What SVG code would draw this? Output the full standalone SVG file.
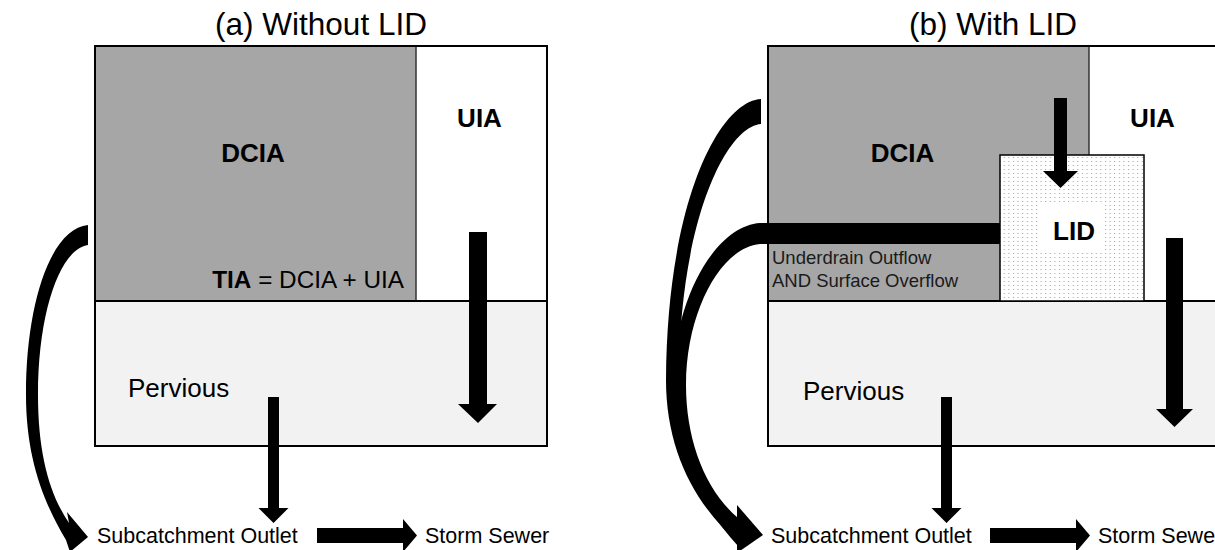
<svg xmlns="http://www.w3.org/2000/svg" width="1215" height="550" viewBox="0 0 1215 550">
  <defs>
    <pattern id="dots" x="0" y="0" width="4.6" height="4" patternUnits="userSpaceOnUse">
      <rect x="1" y="1" width="1" height="1" fill="#9a9a9a"/>
    </pattern>
    <style>
      text { font-family: "Liberation Sans", Arial, sans-serif; fill: #000; }
      .title { font-size: 31.5px; text-anchor: middle; }
      .big { font-size: 26px; font-weight: bold; }
      .mid { font-size: 26px; }
      .lbl { font-size: 21.5px; }
      .small { font-size: 18.5px; fill: #1a1a1a; }
      .dcia { fill: #a6a6a6; }
      .perv { fill: #f2f2f2; }
      .edge { fill: none; stroke: #000; stroke-width: 2; }
      .div { stroke: #333; stroke-width: 1.5; }
      .flow { fill: #000; stroke: none; }
    </style>
  </defs>

  <!-- (a) Without LID -->
  <text class="title" x="321" y="35">(a) Without LID</text>
  <g id="a-dcia">
    <rect class="dcia" x="95" y="46" width="321" height="255"/>
    <text class="big" x="253" y="162" text-anchor="middle">DCIA</text>
    <text x="404" y="288" font-size="24.3" text-anchor="end"><tspan font-weight="bold">TIA</tspan> = DCIA + UIA</text>
  </g>
  <g id="a-uia">
    <rect x="416" y="46" width="131" height="255" fill="#fff"/>
    <text class="big" x="479.5" y="127" text-anchor="middle">UIA</text>
  </g>
  <g id="a-pervious">
    <rect class="perv" x="95" y="301" width="452" height="145"/>
    <text class="mid" x="128" y="397">Pervious</text>
  </g>
  <g id="a-frame">
    <line class="div" x1="416" y1="46" x2="416" y2="301"/>
    <line x1="95" y1="301" x2="547" y2="301" stroke="#000" stroke-width="2"/>
    <rect class="edge" x="95" y="46" width="452" height="400"/>
  </g>
  <g id="a-outlet">
    <text class="lbl" x="97" y="543">Subcatchment Outlet</text>
  </g>
  <g id="a-sewer">
    <text class="lbl" x="425" y="543">Storm Sewer</text>
  </g>

  <!-- (b) With LID -->
  <text class="title" x="993" y="35">(b) With LID</text>
  <g id="b-dcia">
    <rect class="dcia" x="768" y="46" width="321" height="255"/>
    <text class="big" x="902.5" y="162" text-anchor="middle">DCIA</text>
    <text class="small" x="772" y="264">Underdrain Outflow</text>
    <text class="small" x="772" y="287">AND Surface Overflow</text>
  </g>
  <g id="b-uia">
    <rect x="1089" y="46" width="131" height="255" fill="#fff"/>
    <text class="big" x="1152.5" y="127" text-anchor="middle">UIA</text>
  </g>
  <g id="b-pervious">
    <rect class="perv" x="768" y="301" width="452" height="145"/>
    <text class="mid" x="803" y="400">Pervious</text>
  </g>
  <g id="b-frame">
    <line class="div" x1="1089" y1="46" x2="1089" y2="301"/>
    <line x1="768" y1="301" x2="1220" y2="301" stroke="#000" stroke-width="2"/>
    <rect class="edge" x="768" y="46" width="452" height="400"/>
  </g>
  <g id="b-lid">
    <rect x="1000" y="155" width="144" height="146" fill="#fff"/>
    <rect x="1000" y="155" width="144" height="146" fill="url(#dots)" stroke="#000" stroke-width="1.5"/>
    <rect x="1040" y="204" width="64" height="48" fill="#fff"/>
    <text class="big" x="1074" y="240" text-anchor="middle">LID</text>
  </g>
  <g id="b-outlet">
    <text class="lbl" x="771" y="543">Subcatchment Outlet</text>
  </g>
  <g id="b-sewer">
    <text class="lbl" x="1098" y="543">Storm Sewer</text>
  </g>

  <!-- flow arrows -->
  <g id="connectors" class="flow">
    <!-- (a) -->
    <path d="M88,225 C52,228 26,300 26,395 C26,455 42,500 66,540 L70,552 L88,537 L67,512 L69,523 C50,495 38,455 38,395 C38,312 60,249 88,245 Z"/>
    <path d="M469,232 H487 V404 H497 L478,423 L458,404 H469 Z"/>
    <path d="M268,397 H279 V508 H288.5 L273.5,523 L258.5,508 H268 Z"/>
    <path d="M317,528 H403 V519 L417,535.5 L403,552 V543 H317 Z"/>
    <!-- (b) -->
    <path d="M761,99 C720,101 667,200 666,380 C666,450 695,505 738,542 L738,530 C700,495 679,450 679,380 C679,225 725,127 761,124 Z"/>
    <path d="M1000,223 H760 C715,226 673,300 673,385 C673,450 700,505 738,546 L738,518 C705,490 686,440 686,385 C686,310 722,247 760,244 H1000 Z"/>
    <path d="M737,505 L763,535 L737,553 Z"/>
    <path d="M1054,98 H1067 V171 H1078 L1060.5,188 L1043,171 H1054 Z"/>
    <path d="M1166,238 H1183 V409 H1193 L1174.5,427 L1156,409 H1166 Z"/>
    <path d="M941,397 H952 V508 H961.5 L946.5,523 L931.5,508 H941 Z"/>
    <path d="M990,528 H1076 V519 L1090,535.5 L1076,552 V543 H990 Z"/>
  </g>
</svg>
